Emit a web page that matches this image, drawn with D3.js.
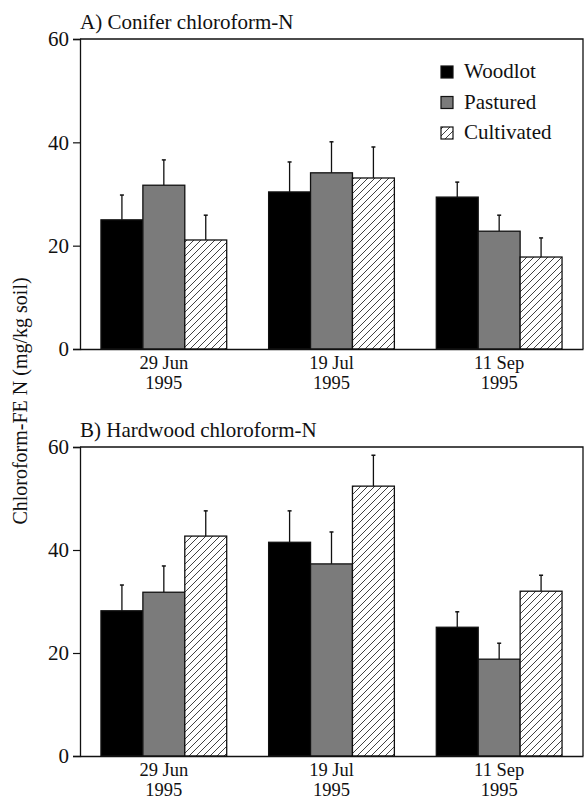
<!DOCTYPE html>
<html>
<head>
<meta charset="utf-8">
<script src="https://cdn.jsdelivr.net/npm/d3@7"></script>
<style>
  body { margin: 0; background: #fff; }
  svg text { font-family: "Liberation Serif", "Times New Roman", serif; fill: #111; }
</style>
</head>
<body>
<div id="chart"></div>
<script>
'use strict';

/*** Data */
const dates = ["29 Jun", "19 Jul", "11 Sep"];
const year = "1995";
const systems = ["Woodlot", "Pastured", "Cultivated"];
const yTicks = [0, 20, 40, 60];

/* A) Conifer: means and error bar heights (one per date) */
const coniferWoodlot = [25.0, 30.4, 29.4];
const coniferPastured = [31.7, 34.1, 22.8];
const coniferCultivated = [21.1, 33.1, 17.8];
const coniferWoodlotErr = [4.8, 5.8, 2.9];
const coniferPasturedErr = [4.9, 6.0, 3.1];
const coniferCultivatedErr = [4.8, 6.0, 3.7];

/* B) Hardwood */
const hardwoodWoodlot = [28.2, 41.5, 25.0];
const hardwoodPastured = [31.8, 37.3, 18.8];
const hardwoodCultivated = [42.7, 52.4, 32.0];
const hardwoodWoodlotErr = [5.0, 6.1, 3.0];
const hardwoodPasturedErr = [5.1, 6.2, 3.1];
const hardwoodCultivatedErr = [4.9, 6.0, 3.1];

/*** Layout */
const W = 584, H = 801;
const left = 80, right = 583;

const svg = d3.select("#chart").append("svg")
    .attr("width", W)
    .attr("height", H);

/* Fill patterns */
const defs = svg.append("defs");
const hatch = defs.append("pattern")
    .attr("id", "hatch")
    .attr("patternUnits", "userSpaceOnUse")
    .attr("width", 7)
    .attr("height", 7);
hatch.append("rect").attr("width", 7).attr("height", 7).attr("fill", "#fff");
hatch.append("path")
    .attr("d", "M-1,1 l2,-2 M0,7 l7,-7 M6,8 l2,-2")
    .attr("stroke", "#111")
    .attr("stroke-width", 0.8);

const fills = {
    Woodlot: "#000",
    Pastured: "#7b7b7b",
    Cultivated: "url(#hatch)"
};

const panels = [
    {
        title: "A) Conifer chloroform-N", top: 39, bottom: 349, legend: true,
        means: [coniferWoodlot, coniferPastured, coniferCultivated],
        errs: [coniferWoodlotErr, coniferPasturedErr, coniferCultivatedErr]
    },
    {
        title: "B) Hardwood chloroform-N", top: 447, bottom: 756, legend: false,
        means: [hardwoodWoodlot, hardwoodPastured, hardwoodCultivated],
        errs: [hardwoodWoodlotErr, hardwoodPasturedErr, hardwoodCultivatedErr]
    }
];

const x0 = d3.scaleBand()
    .domain(dates)
    .range([left, right])
    .paddingInner(0.25)
    .paddingOuter(0.125);

const x1 = d3.scaleBand()
    .domain(systems)
    .range([0, x0.bandwidth()]);

panels.forEach(p => {
    const y = d3.scaleLinear().domain([0, 60]).range([p.bottom, p.top]);
    const g = svg.append("g");

    // title
    g.append("text")
        .attr("x", left)
        .attr("y", p.top - 10)
        .attr("font-size", 21)
        .text(p.title);

    // frame: top and right
    g.append("path")
        .attr("d", `M${left},${y(60)}H${right}V${y(0)}`)
        .attr("fill", "none")
        .attr("stroke", "#111")
        .attr("stroke-width", 1.3);

    // bars
    const rows = [];
    systems.forEach((s, si) => {
        dates.forEach((d, di) => {
            rows.push({ date: d, system: s, mean: p.means[si][di], err: p.errs[si][di] });
        });
    });

    // error bars (up only)
    const eb = g.selectAll(".err").data(rows).join("g").attr("class", "err");
    eb.append("line")
        .attr("x1", d => x0(d.date) + x1(d.system) + x1.bandwidth() / 2)
        .attr("x2", d => x0(d.date) + x1(d.system) + x1.bandwidth() / 2)
        .attr("y1", d => y(d.mean))
        .attr("y2", d => y(d.mean + d.err))
        .attr("stroke", "#111")
        .attr("stroke-width", 1.3);
    eb.append("line")
        .attr("x1", d => x0(d.date) + x1(d.system) + x1.bandwidth() / 2 - 2)
        .attr("x2", d => x0(d.date) + x1(d.system) + x1.bandwidth() / 2 + 2)
        .attr("y1", d => y(d.mean + d.err))
        .attr("y2", d => y(d.mean + d.err))
        .attr("stroke", "#111")
        .attr("stroke-width", 1.5);

    g.selectAll(".bar").data(rows).join("rect")
        .attr("class", "bar")
        .attr("x", d => x0(d.date) + x1(d.system))
        .attr("y", d => y(d.mean))
        .attr("width", x1.bandwidth())
        .attr("height", d => y(0) - y(d.mean))
        .attr("fill", d => fills[d.system])
        .attr("stroke", "#111")
        .attr("stroke-width", 1.3);

    // y axis
    const yAxis = g.append("g")
        .attr("transform", `translate(${left},0)`)
        .call(d3.axisLeft(y).tickValues(yTicks).tickSize(7).tickPadding(4));
    yAxis.select(".domain").attr("stroke", "#111").attr("stroke-width", 1.3);
    yAxis.selectAll(".tick line").attr("stroke", "#111").attr("stroke-width", 1.2);
    yAxis.selectAll(".tick text")
        .attr("font-family", "Liberation Serif")
        .attr("font-size", 21)
        .attr("fill", "#111");

    // x axis (baseline, no ticks)
    const xAxis = g.append("g")
        .attr("transform", `translate(0,${y(0)})`)
        .call(d3.axisBottom(x0).tickSize(0).tickPadding(6));
    xAxis.select(".domain").attr("stroke", "#111").attr("stroke-width", 1.3);
    xAxis.selectAll(".tick text").remove();
    xAxis.selectAll(".tick").each(function(d) {
        const t = d3.select(this).append("text")
            .attr("text-anchor", "middle")
            .attr("font-size", 18.5)
            .attr("fill", "#111");
        t.append("tspan").attr("x", 0).attr("y", 20).text(d);
        t.append("tspan").attr("x", 0).attr("y", 40).text(year);
    });

    // legend
    if (p.legend) {
        const lg = g.append("g").attr("transform", "translate(441,66)");
        systems.forEach((s, i) => {
            lg.append("rect")
                .attr("x", 0)
                .attr("y", i * 30.5)
                .attr("width", 12)
                .attr("height", 12)
                .attr("fill", fills[s])
                .attr("stroke", "#111")
                .attr("stroke-width", 1.2);
            lg.append("text")
                .attr("x", 23)
                .attr("y", i * 30.5 + 12)
                .attr("font-size", 21)
                .text(s);
        });
    }
});

/* shared y title */
svg.append("text")
    .attr("transform", "translate(27,401) rotate(-90)")
    .attr("text-anchor", "middle")
    .attr("font-size", 20)
    .text("Chloroform-FE N (mg/kg soil)");
</script>
</body>
</html>
